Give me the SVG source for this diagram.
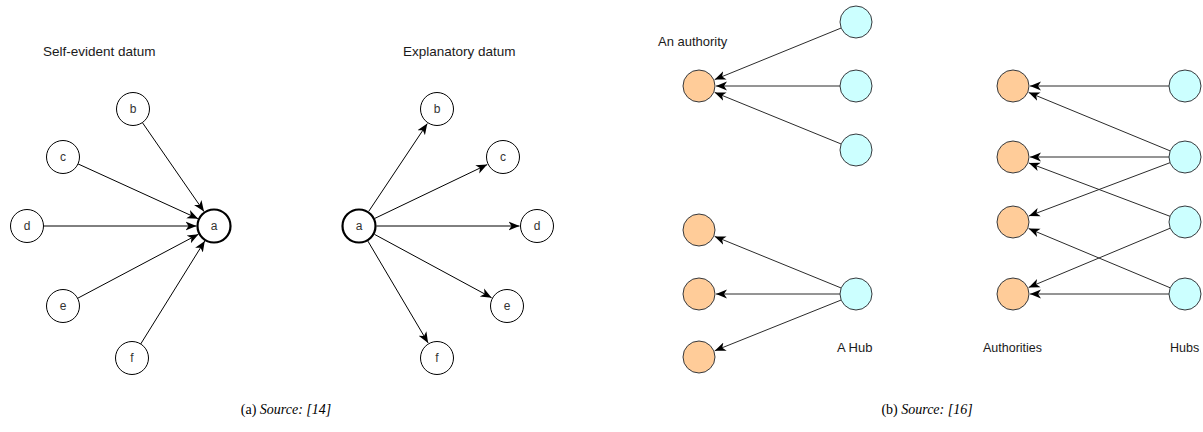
<svg xmlns="http://www.w3.org/2000/svg" width="1203" height="432" viewBox="0 0 1203 432">
  <style>
    text { font-family: "Liberation Sans", Arial, sans-serif; fill: #1a1a1a; }
    .title { font-size: 13.5px; }
    .lbl { font-size: 13px; }
    .nl { font-size: 12px; text-anchor: middle; dominant-baseline: central; fill: #333; }
    .cap { font-family: "Liberation Serif", "Times New Roman", serif; font-size: 14px; text-anchor: middle; fill: #000; }
    .cap tspan.it { font-style: italic; }
    .plain { fill: #fff; stroke: #000; stroke-width: 1; }
    .bold { fill: #fff; stroke: #000; stroke-width: 2.2; }
    .auth { fill: #FFCC99; stroke: #36393d; stroke-width: 1; }
    .hub { fill: #CCFFFF; stroke: #36393d; stroke-width: 1; }
    .edge { fill: none; stroke: #000; stroke-width: 1; marker-end: url(#arrow); }
    .edge2 { fill: none; stroke: #2b2b2b; stroke-width: 1; marker-end: url(#arrow); }
  </style>
  <defs>
    <marker id="arrow" markerUnits="userSpaceOnUse" markerWidth="12" markerHeight="12" refX="11" refY="6" orient="auto">
      <path d="M0,1.5 L11,6 L0,10.5 L3,6 Z" fill="#000"/>
    </marker>
  </defs>
  <rect width="1203" height="432" fill="#fff"/>

  <!-- panel titles and labels -->
  <text class="title" x="43" y="56">Self-evident datum</text>
  <text class="title" x="403" y="56">Explanatory datum</text>
  <text class="lbl" x="658" y="46">An authority</text>
  <text class="lbl" x="837" y="352">A Hub</text>
  <text class="lbl" x="983" y="352" style="font-size:12.5px">Authorities</text>
  <text class="lbl" x="1170" y="352" style="font-size:12.5px">Hubs</text>

  <!-- connectors -->
  <g id="connectors">
    <!-- self-evident: all point into a -->
    <line class="edge" x1="142.4" y1="122.6" x2="204.0" y2="211.6"/>
    <line class="edge" x1="78.0" y1="163.9" x2="198.1" y2="218.7"/>
    <line class="edge" x1="43.5" y1="226" x2="196.5" y2="226"/>
    <line class="edge" x1="77.6" y1="298.3" x2="198.5" y2="234.2"/>
    <line class="edge" x1="140.7" y1="344.0" x2="204.8" y2="240.9"/>
    <!-- explanatory: a points out -->
    <line class="edge" x1="368.7" y1="211.4" x2="427.3" y2="123.6"/>
    <line class="edge" x1="374.8" y1="218.4" x2="487.2" y2="164.6"/>
    <line class="edge" x1="376.5" y1="226" x2="519.5" y2="226"/>
    <line class="edge" x1="374.4" y1="234.3" x2="491.6" y2="297.7"/>
    <line class="edge" x1="367.9" y1="241.1" x2="428.1" y2="342.9"/>
    <!-- an authority -->
    <line class="edge2" x1="841.2" y1="28.0" x2="714.7" y2="79.6"/>
    <line class="edge2" x1="840" y1="86" x2="716" y2="86"/>
    <line class="edge2" x1="841.2" y1="144.0" x2="714.7" y2="92.4"/>
    <!-- a hub -->
    <line class="edge2" x1="841.2" y1="288.0" x2="714.7" y2="236.4"/>
    <line class="edge2" x1="840" y1="294" x2="716" y2="294"/>
    <line class="edge2" x1="841.2" y1="300.0" x2="714.8" y2="350.7"/>
    <!-- hubs to authorities -->
    <line class="edge2" x1="1169" y1="86" x2="1030" y2="86"/>
    <line class="edge2" x1="1170.2" y1="150.9" x2="1028.7" y2="92.5"/>
    <line class="edge2" x1="1169" y1="157" x2="1030" y2="157"/>
    <line class="edge2" x1="1170.0" y1="162.7" x2="1028.9" y2="216.0"/>
    <line class="edge2" x1="1170.0" y1="216.3" x2="1028.9" y2="163.0"/>
    <line class="edge2" x1="1170.2" y1="228.2" x2="1028.7" y2="287.4"/>
    <line class="edge2" x1="1170.2" y1="287.8" x2="1028.7" y2="228.6"/>
    <line class="edge2" x1="1169" y1="294" x2="1030" y2="294"/>
  </g>

  <!-- self-evident datum nodes -->
  <g id="se-a"><circle class="bold" cx="214" cy="226" r="16.5"/><text class="nl" x="214" y="226">a</text></g>
  <g id="se-b"><circle class="plain" cx="133" cy="109" r="16.5"/><text class="nl" x="133" y="109">b</text></g>
  <g id="se-c"><circle class="plain" cx="63" cy="157" r="16.5"/><text class="nl" x="63" y="157">c</text></g>
  <g id="se-d"><circle class="plain" cx="27" cy="226" r="16.5"/><text class="nl" x="27" y="226">d</text></g>
  <g id="se-e"><circle class="plain" cx="63" cy="306" r="16.5"/><text class="nl" x="63" y="306">e</text></g>
  <g id="se-f"><circle class="plain" cx="132" cy="358" r="16.5"/><text class="nl" x="132" y="358">f</text></g>

  <!-- explanatory datum nodes -->
  <g id="ex-a"><circle class="bold" cx="359" cy="226" r="16.5"/><text class="nl" x="359" y="226">a</text></g>
  <g id="ex-b"><circle class="plain" cx="437" cy="109" r="16.5"/><text class="nl" x="437" y="109">b</text></g>
  <g id="ex-c"><circle class="plain" cx="503" cy="157" r="16.5"/><text class="nl" x="503" y="157">c</text></g>
  <g id="ex-d"><circle class="plain" cx="537" cy="226" r="16.5"/><text class="nl" x="537" y="226">d</text></g>
  <g id="ex-e"><circle class="plain" cx="507" cy="306" r="16.5"/><text class="nl" x="507" y="306">e</text></g>
  <g id="ex-f"><circle class="plain" cx="437" cy="358" r="16.5"/><text class="nl" x="437" y="358">f</text></g>

  <!-- an authority -->
  <g id="auth-1"><circle class="auth" cx="699" cy="86" r="16"/></g>
  <g id="auth-src-1"><circle class="hub" cx="856" cy="22" r="16"/></g>
  <g id="auth-src-2"><circle class="hub" cx="856" cy="86" r="16"/></g>
  <g id="auth-src-3"><circle class="hub" cx="856" cy="150" r="16"/></g>

  <!-- a hub -->
  <g id="hub-dst-1"><circle class="auth" cx="699" cy="230" r="16"/></g>
  <g id="hub-dst-2"><circle class="auth" cx="699" cy="294" r="16"/></g>
  <g id="hub-dst-3"><circle class="auth" cx="699" cy="357" r="16"/></g>
  <g id="hub-1"><circle class="hub" cx="856" cy="294" r="16"/></g>

  <!-- authorities and hubs -->
  <g id="A1"><circle class="auth" cx="1013" cy="86" r="16"/></g>
  <g id="A2"><circle class="auth" cx="1013" cy="157" r="16"/></g>
  <g id="A3"><circle class="auth" cx="1013" cy="222" r="16"/></g>
  <g id="A4"><circle class="auth" cx="1013" cy="294" r="16"/></g>
  <g id="H1"><circle class="hub" cx="1185" cy="86" r="16"/></g>
  <g id="H2"><circle class="hub" cx="1185" cy="157" r="16"/></g>
  <g id="H3"><circle class="hub" cx="1185" cy="222" r="16"/></g>
  <g id="H4"><circle class="hub" cx="1185" cy="294" r="16"/></g>

  <!-- captions -->
  <text class="cap" x="286" y="414">(a) <tspan class="it">Source: [14]</tspan></text>
  <text class="cap" x="927" y="414">(b) <tspan class="it">Source: [16]</tspan></text>
</svg>
